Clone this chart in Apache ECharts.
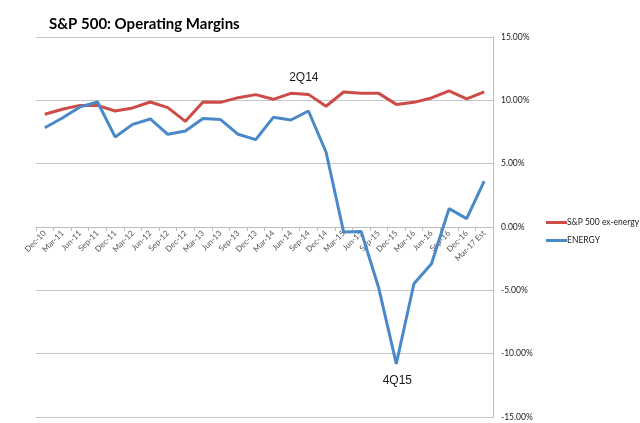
<!DOCTYPE html>
<html>
<head>
<meta charset="utf-8">
<script src="https://cdn.jsdelivr.net/npm/echarts@6/dist/echarts.min.js"></script>
<style>
  html, body { margin: 0; padding: 0; background: #fff; }
  #chart { width: 640px; height: 423px; }
</style>
</head>
<body>
<div id="chart"></div>
<script>
//Données (en %)
const quarters = ['Dec-10', 'Mar-11', 'Jun-11', 'Sep-11', 'Dec-11', 'Mar-12', 'Jun-12', 'Sep-12',
  'Dec-12', 'Mar-13', 'Jun-13', 'Sep-13', 'Dec-13', 'Mar-14', 'Jun-14', 'Sep-14', 'Dec-14',
  'Mar-15', 'Jun-15', 'Sep-15', 'Dec-15', 'Mar-16', 'Jun-16', 'Sep-16', 'Dec-16', 'Mar-17 Est'];
const exEnergy = [8.9, 9.3, 9.6, 9.6, 9.16, 9.4, 9.87, 9.42, 8.34, 9.87, 9.84, 10.21, 10.45,
  10.08, 10.55, 10.47, 9.53, 10.66, 10.55, 10.55, 9.68, 9.84, 10.19, 10.74, 10.11, 10.66];
const energy = [7.84, 8.61, 9.48, 9.87, 7.11, 8.1, 8.53, 7.32, 7.58, 8.56, 8.48, 7.32, 6.9,
  8.66, 8.45, 9.16, 5.92, -0.39, -0.35, -4.82, -10.8, -4.48, -2.9, 1.45, 0.66, 3.63];
const yTicks = { min: -15, max: 15, step: 5 };

//Annotations (trimestre -> texte)
const notes = { 'Jun-14': '2Q14', 'Dec-15': '4Q15' };

//Zone de tracé
const W = 640, H = 423;
const grid = { left: 36, right: 147, top: 37, bottom: 6 };
//Décalage de l'axe des catégories jusqu'à la ligne 0 %
const zeroOffset = -(H - grid.top - grid.bottom) * (0 - yTicks.min) / (yTicks.max - yTicks.min);

const chart = echarts.init(document.getElementById('chart'));

//Point invisible portant une étiquette
const noted = (v, text, pos, off) => ({
  value: v,
  symbol: 'circle', symbolSize: 1,
  label: {
    show: true, formatter: text, position: pos, offset: off,
    color: '#1a1a1a', fontSize: 12, fontFamily: 'Liberation Sans'
  }
});

chart.setOption({
  animation: false,
  backgroundColor: '#fff',
  title: {
    text: 'S&P 500: Operating Margins',
    left: 44, top: 12,
    textStyle: { fontFamily: 'Lato', fontWeight: 'bold', fontSize: 15, color: '#000' }
  },
  legend: {
    orient: 'vertical',
    left: 541, top: 213,
    itemWidth: 21, itemHeight: 3, itemGap: 9,
    icon: 'rect',
    textStyle: { fontFamily: 'Lato', fontSize: 8.5, color: '#222', padding: [0, 0, 0, -5] },
    data: ['S&P 500 ex-energy', 'ENERGY']
  },
  grid: { ...grid, containLabel: false, outerBoundsMode: 'none' },
  xAxis: {
    type: 'category',
    data: quarters,
    boundaryGap: true,
    offset: zeroOffset,
    axisLine: { onZero: false, lineStyle: { color: '#bdbdbd', width: 1 } },
    axisTick: { show: true, length: 4, lineStyle: { color: '#bdbdbd' } },
    axisLabel: {
      rotate: 45, interval: 0, margin: 5,
      fontFamily: 'Lato', fontSize: 8, color: '#555'
    },
    splitLine: { show: false }
  },
  yAxis: {
    type: 'value',
    position: 'right',
    min: yTicks.min, max: yTicks.max, interval: yTicks.step,
    axisLine: { show: true, lineStyle: { color: '#bdbdbd' } },
    axisTick: { show: true, inside: true, length: 3, lineStyle: { color: '#bdbdbd' } },
    axisLabel: {
      margin: 8, fontFamily: 'Lato', fontSize: 8.5, color: '#222',
      formatter: v => v.toFixed(2) + '%'
    },
    splitLine: { show: true, lineStyle: { color: '#c6c6c6', width: 1 } }
  },
  series: [
    {
      name: 'S&P 500 ex-energy',
      type: 'line',
      symbol: 'none',
      lineStyle: { color: '#cc4c48', width: 3 },
      itemStyle: { color: '#cc4c48' },
      data: exEnergy.map((v, i) => notes[quarters[i]] === '2Q14'
        ? noted(v, '2Q14', 'top', [13, -4]) : v)
    },
    {
      name: 'ENERGY',
      type: 'line',
      symbol: 'none',
      lineStyle: { color: '#4a89c8', width: 3 },
      itemStyle: { color: '#4a89c8' },
      data: energy.map((v, i) => notes[quarters[i]] === '4Q15'
        ? noted(v, '4Q15', 'bottom', [1, 5]) : v)
    }
  ]
});

window.addEventListener('resize', () => chart.resize());
</script>
</body>
</html>
